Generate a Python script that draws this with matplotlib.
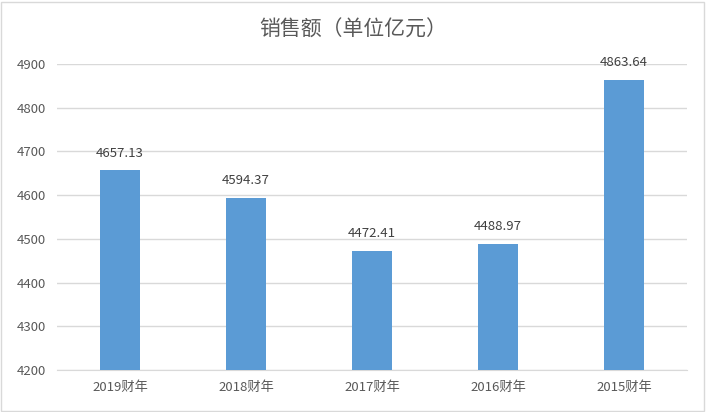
import matplotlib.pyplot as plt
from matplotlib.patches import Rectangle

plt.rcParams['font.family'] = ['Noto Sans CJK SC', 'DejaVu Sans']

# 数据
years = ['2019财年', '2018财年', '2017财年', '2016财年', '2015财年']
sales = [4657.13, 4594.37, 4472.41, 4488.97, 4863.64]
yticks = [4200, 4300, 4400, 4500, 4600, 4700, 4800, 4900]

txt = '#595959'

fig = plt.figure(figsize=(7.06, 4.12), dpi=100)
ax = fig.add_axes([0.081, 0.102, 0.892, 0.743])

x = range(len(years))
ax.bar(x, sales, width=0.32, color='#5B9BD5', zorder=3)
for i, v in enumerate(sales):
    ax.text(i, v + 24, format(v, '.2f'), ha='center', va='bottom', fontsize=9.5, color='#404040')

ax.set_xlim(-0.5, len(years) - 0.5)
ax.set_ylim(4200, 4900)
ax.set_yticks(yticks)
ax.set_xticks(list(x))
ax.set_xticklabels(years)
ax.grid(axis='y', color='#D9D9D9', linewidth=1, zorder=0)
for s in ['top', 'right', 'left']:
    ax.spines[s].set_visible(False)
ax.spines['bottom'].set_color('#D9D9D9')
ax.tick_params(axis='both', length=0, colors=txt, labelsize=9.5)
ax.tick_params(axis='x', pad=8)
ax.tick_params(axis='y', pad=8)

fig.text(0.5, 0.928, '销售额（单位亿元）', ha='center', va='center', fontsize=15, color=txt)

fig.patches.append(Rectangle((0.002, 0.003), 0.995, 0.993, transform=fig.transFigure,
                             fill=False, edgecolor='#D9D9D9', linewidth=1))

fig.savefig('out.png', dpi=100)
